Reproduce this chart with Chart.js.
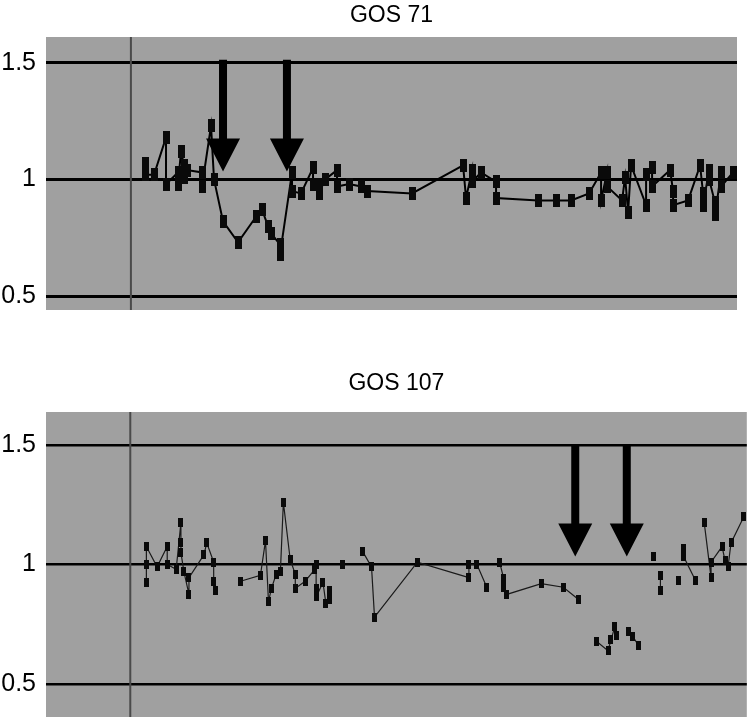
<!DOCTYPE html>
<html>
<head>
<meta charset="utf-8">
<script src="https://cdn.jsdelivr.net/npm/chart.js@4.4.1/dist/chart.umd.min.js"></script>
<style>
  html, body { margin: 0; padding: 0; background: #fff; overflow: hidden; }
  canvas { position: absolute; left: 0; }
  #gos71 { top: 0; }
  #gos107 { top: 368px; }
</style>
</head>
<body>
<canvas id="gos71" width="752" height="335"></canvas>
<canvas id="gos107" width="752" height="374"></canvas>
<script>
// ---- data (days on x, ratio on y), null breaks the line ----
var yTicks = [0.5, 1, 1.5];

var gos71Days = [33,33,36,40,40,44,44,45,46,46,47,52,52,55,56,59,64,70,72,74,75,78,78,82,82,85,89,89,91,91,93,97,97,101,105,107,122,139,140,142,142,145,150,150,164,170,175,181,185,185,187,187,192,193,194,195,200,200,202,202,208,209,209,214,218,219,219,221,221,223,223,225,225,229];
var gos71Ratio = [1.07,1.02,1.02,1.18,0.98,1.03,0.98,1.12,1.06,1.01,1.04,1.03,0.97,1.23,1.00,0.82,0.73,0.84,0.87,0.80,0.77,0.72,0.68,1.03,0.95,0.94,1.05,0.98,0.98,0.94,1.00,1.04,0.97,0.98,0.97,0.95,0.94,1.06,0.92,1.04,0.99,1.03,0.99,0.92,0.91,0.91,0.91,0.94,1.03,0.91,1.03,0.97,0.91,1.01,0.86,1.06,0.89,1.02,1.05,0.97,1.04,0.95,0.89,0.91,1.06,0.94,0.89,1.04,1.00,0.90,0.85,1.03,0.97,1.03];
var gos71Arrows = [59, 80.3];

var gos107Days = [33.7,33.7,33.7,37.3,40.7,40.7,43.7,45.3,45.3,45.3,46.3,48,48,53,54,56.3,56.3,57,61,65.3,72,73.7,74.7,75.7,77.3,78.7,79.7,82,83.7,83.7,87,90.3,90.7,90.7,90.7,93,94,95.3,95.3,97.5,99.7,103,106.3,109.3,110.3,124.7,142,142,144.7,148,150,152.3,153.7,153.7,154.7,166.3,173.7,178.7,182,184.7,188.7,189.7,191,191.7,193.5,195.7,197,199,201,204,205,206.3,206.3,209,212.3,213,214,214,218,219.5,221,223.3,223.3,227,228,229,230,234.3];
var gos107Ratio = [0.925,1.0,1.075,0.99,1.075,1.0,0.98,1.175,1.09,1.05,0.97,0.875,0.945,1.04,1.09,1.01,0.93,0.89,null,0.93,0.955,1.10,0.845,0.90,0.96,0.97,1.26,1.02,0.96,0.90,0.93,0.98,1.0,0.90,0.865,0.925,0.835,0.89,0.855,null,1.0,null,1.055,0.99,0.78,1.01,0.945,1.0,1.0,0.905,null,1.01,0.94,0.905,0.875,0.92,0.905,0.855,null,0.68,0.64,0.685,0.74,0.705,null,0.72,0.70,0.66,null,1.035,null,0.955,0.89,null,0.935,null,1.065,1.035,0.935,null,1.175,0.945,1.01,1.075,1.015,0.99,1.09,1.20];
var gos107Arrows = [177.7, 195];

var CERO_DIAS = 28.3;   // vertical marker line

function marca(w, h) {
    var c = document.createElement('canvas');
    c.width = w; c.height = h;
    var g = c.getContext('2d');
    g.fillStyle = '#0a0a0a';
    g.fillRect(0, 0, w, h);
    return c;
}

var panelPlugin = {
    id: 'panel',
    beforeDraw: function(chart, args, o) {
        var a = chart.chartArea, ctx = chart.ctx;
        ctx.save();
        ctx.fillStyle = '#a0a0a0';
        ctx.fillRect(a.left, a.top, a.right - a.left, a.bottom - a.top);
        ctx.restore();
    },
    beforeDatasetsDraw: function(chart, args, o) {
        var a = chart.chartArea, ctx = chart.ctx;
        var x = chart.scales.x.getPixelForValue(o.linea);
        ctx.save();
        ctx.strokeStyle = '#4a4a4a';
        ctx.lineWidth = 2;
        ctx.beginPath();
        ctx.moveTo(x, a.top);
        ctx.lineTo(x, a.bottom);
        ctx.stroke();
        ctx.restore();
    },
    afterDatasetsDraw: function(chart, args, o) {
        var ctx = chart.ctx, xs = chart.scales.x, ys = chart.scales.y;
        var yTail = ys.getPixelForValue(o.cola), yTip = ys.getPixelForValue(o.punta);
        ctx.save();
        ctx.fillStyle = '#000';
        o.flechas.forEach(function(d) {
            var x = xs.getPixelForValue(d);
            ctx.beginPath();
            ctx.moveTo(x - 4, yTail);
            ctx.lineTo(x - 4, yTip - 33);
            ctx.lineTo(x - 17, yTip - 33);
            ctx.lineTo(x, yTip);
            ctx.lineTo(x + 17, yTip - 33);
            ctx.lineTo(x + 4, yTip - 33);
            ctx.lineTo(x + 4, yTail);
            ctx.closePath();
            ctx.fill();
        });
        ctx.restore();
    }
};

function panel(id, titulo, dias, ratio, flechas, cfg) {
    var puntos = dias.map(function(d, i) { return {x: d, y: ratio[i]}; });
    var ctx = document.getElementById(id).getContext('2d');
    return new Chart(ctx, {
        type: 'line',
        data: {
            datasets: [{
                data: puntos,
                borderColor: cfg.lineColor,
                borderWidth: cfg.lineWidth,
                pointStyle: marca(cfg.mw, cfg.mh),
                pointRadius: 4,
                spanGaps: false,
                tension: 0
            }]
        },
        options: {
            responsive: false,
            animation: false,
            layout: {padding: {right: cfg.padRight, bottom: cfg.padBottom, top: 0, left: 0}},
            plugins: {
                legend: {display: false},
                tooltip: {enabled: false},
                title: {
                    display: true,
                    text: titulo,
                    fullSize: false,
                    color: '#000',
                    font: {family: 'Liberation Sans, Arial, sans-serif', size: 23, weight: 'normal', lineHeight: 1.2},
                    padding: {top: cfg.titleTop, bottom: cfg.titleBottom}
                },
                panel: {linea: CERO_DIAS, flechas: flechas, cola: cfg.cola, punta: cfg.punta}
            },
            scales: {
                x: {type: 'linear', display: false, min: 0, max: cfg.xMax},
                y: {
                    min: cfg.yMin, max: cfg.yMax,
                    afterBuildTicks: function(s) { s.ticks = yTicks.map(function(v) { return {value: v}; }); },
                    afterFit: function(s) { s.width = 46; },
                    border: {display: false},
                    grid: {color: '#000', lineWidth: cfg.gridWidth, drawTicks: false},
                    ticks: {
                        color: '#000',
                        padding: 10,
                        font: {family: 'Liberation Sans, Arial, sans-serif', size: 25},
                        callback: function(v) { return String(v); }
                    }
                }
            }
        },
        plugins: [panelPlugin]
    });
}

panel('gos71', 'GOS 71', gos71Days, gos71Ratio, gos71Arrows, {
    lineColor: '#000', lineWidth: 2, mw: 7, mh: 13,
    padRight: 15, padBottom: 0, titleTop: 2, titleBottom: 7.4,
    xMax: 230.3, yMin: 0.44, yMax: 1.611, gridWidth: 3,
    cola: 1.513, punta: 1.034
});

panel('gos107', 'GOS 107', gos107Days, gos107Ratio, gos107Arrows, {
    lineColor: '#1a1a1a', lineWidth: 1.2, mw: 5, mh: 9,
    padRight: 0, padBottom: 0, titleTop: 2, titleBottom: 14.4,
    xMax: 235.3, yMin: 0.3625, yMax: 1.6375, gridWidth: 2.5,
    cola: 1.5, punta: 1.033
});
</script>
</body>
</html>
